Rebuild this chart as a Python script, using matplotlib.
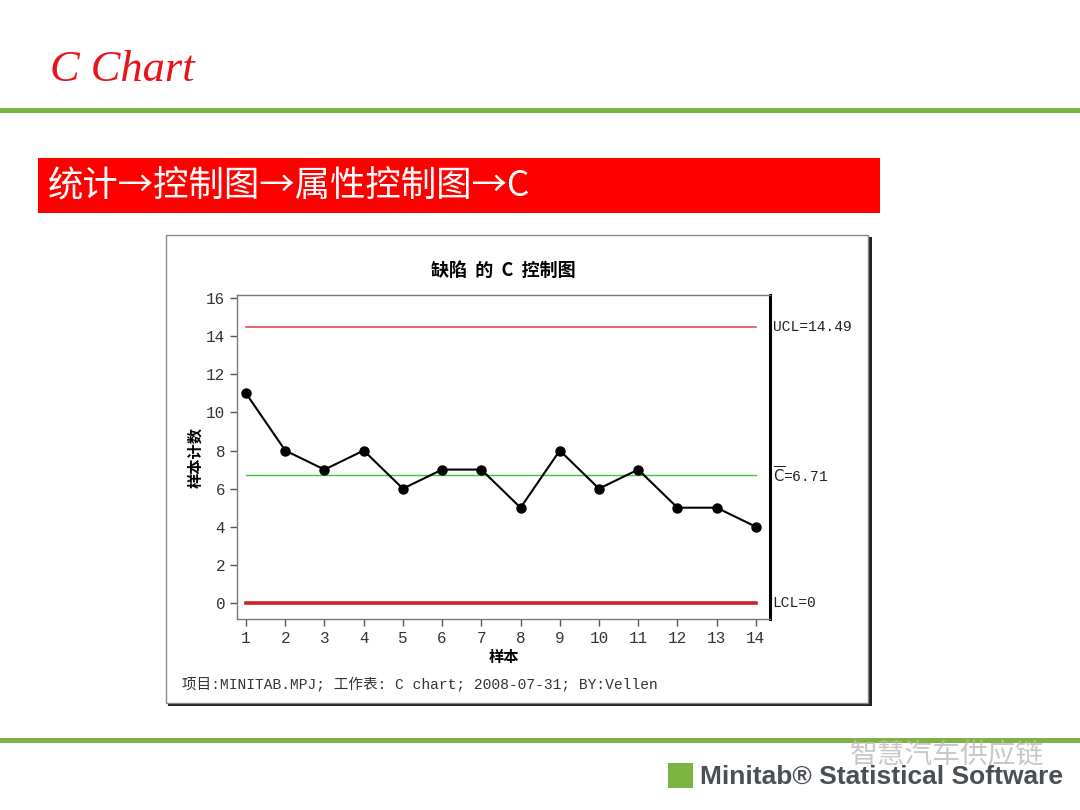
import matplotlib.pyplot as plt
import numpy as np
from matplotlib.patches import Rectangle

# C chart data (defects per sample)
samples = list(range(1, 15))
counts = [11, 8, 7, 8, 6, 7, 7, 5, 8, 6, 7, 5, 5, 4]
ucl = 14.49
cbar = 6.71
lcl = 0
y_ticks = [0, 2, 4, 6, 8, 10, 12, 14, 16]

W, H = 1080, 810
fig = plt.figure(figsize=(10.8, 8.1), dpi=100, facecolor='white')

def px(x, y):
    # pixel (top-left origin) -> figure fraction
    return x / W, 1 - y / H

cjk = ['Noto Sans CJK SC', 'DejaVu Sans']
mono = ['Liberation Mono', 'Noto Sans CJK SC']
green = '#7cb342'

# slide title
fig.text(*px(50, 70), 'C Chart', color='#e8141c', fontsize=32, family='Liberation Serif',
         style='italic', va='center', ha='left')

# green rules
fig.add_artist(Rectangle(px(0, 113), 1, 5 / H, transform=fig.transFigure, color=green, lw=0))
fig.add_artist(Rectangle(px(0, 743), 1, 5 / H, transform=fig.transFigure, color=green, lw=0))

# red menu banner
fig.add_artist(Rectangle(px(38, 213), (880 - 38) / W, 55 / H, transform=fig.transFigure,
                         color='#ff0000', lw=0))
fig.text(*px(48, 186), '统计→控制图→属性控制图→C', color='white', fontsize=25.5,
         family=cjk, va='center', ha='left')

# chart box with shadow
fig.add_artist(Rectangle(px(168, 706), (870 - 166) / W, (706 - 237) / H, transform=fig.transFigure,
                         facecolor='#222222', lw=0, zorder=1))
fig.add_artist(Rectangle(px(166, 703), (868 - 166) / W, (703 - 235) / H, transform=fig.transFigure,
                         facecolor='white', edgecolor='#888888', lw=1, zorder=1.5))

# plot area
l, b = px(237, 619)
ax = fig.add_axes([l, b, (770 - 237) / W, (619 - 295) / H])
ax.set_zorder(5)
ax.plot(samples, counts, color='black', lw=1.5, marker='o', ms=6.5, zorder=4)
ax.plot([samples[0], samples[-1]], [ucl, ucl], color='#e0403a', lw=1.1)
ax.plot([samples[0], samples[-1]], [cbar, cbar], color='#33cc33', lw=1.0)
ax.plot([samples[0], samples[-1]], [lcl, lcl], color='#cc2222', lw=2.6)

ax.set_xlim(0.77, 14.36)
ax.set_ylim(-0.84, 16.16)
ax.set_xticks(samples)
ax.set_yticks(y_ticks)
for s in ['left', 'bottom', 'top']:
    ax.spines[s].set_color('#777777')
    ax.spines[s].set_linewidth(1)
ax.spines['right'].set_color('black')
ax.spines['right'].set_linewidth(2.2)
ax.tick_params(direction='out', length=5, width=1, color='#555555', labelcolor='#333333',
               labelsize=11.5)
for lab in ax.get_xticklabels() + ax.get_yticklabels():
    lab.set_family('Liberation Mono')

ax.set_title('缺陷  的  C  控制图', family=cjk, fontsize=13, fontweight='bold', pad=14)
ax.set_xlabel('样本', family=cjk, fontsize=11, fontweight='bold', labelpad=2)
ax.set_ylabel('样本计数', family=cjk, fontsize=11, fontweight='bold', labelpad=2)

# control limit labels
ax.text(1.005, ucl, 'UCL=14.49', transform=ax.get_yaxis_transform(), family=mono,
        fontsize=10.5, va='center', ha='left', color='#222222')
ax.text(1.005, cbar, r'$\overline{\mathrm{C}}$' + '=6.71', transform=ax.get_yaxis_transform(),
        fontsize=10.5, va='center', ha='left', color='#222222', family=mono)
ax.text(1.005, lcl, 'LCL=0', transform=ax.get_yaxis_transform(), family=mono,
        fontsize=10.5, va='center', ha='left', color='#222222')

# footer inside chart box
fig.text(*px(182, 685), '项目:MINITAB.MPJ; 工作表: C chart; 2008-07-31; BY:Vellen',
         family=mono, fontsize=10.5, color='#333333', va='center', ha='left', zorder=3)

# watermark and logo
fig.text(*px(850, 755), '智慧汽车供应链', family=cjk, fontsize=20, color='#bbbbbb',
         va='center', ha='left', alpha=0.8)
fig.add_artist(Rectangle(px(668, 788), 25 / W, 25 / H, transform=fig.transFigure,
                         color=green, lw=0))
fig.text(*px(700, 777), 'Minitab® Statistical Software',
         family='Liberation Sans', fontsize=19,
         color='#4a4f55', va='center', ha='left', fontweight='bold')

fig.savefig('out.png', dpi=100, facecolor='white')
